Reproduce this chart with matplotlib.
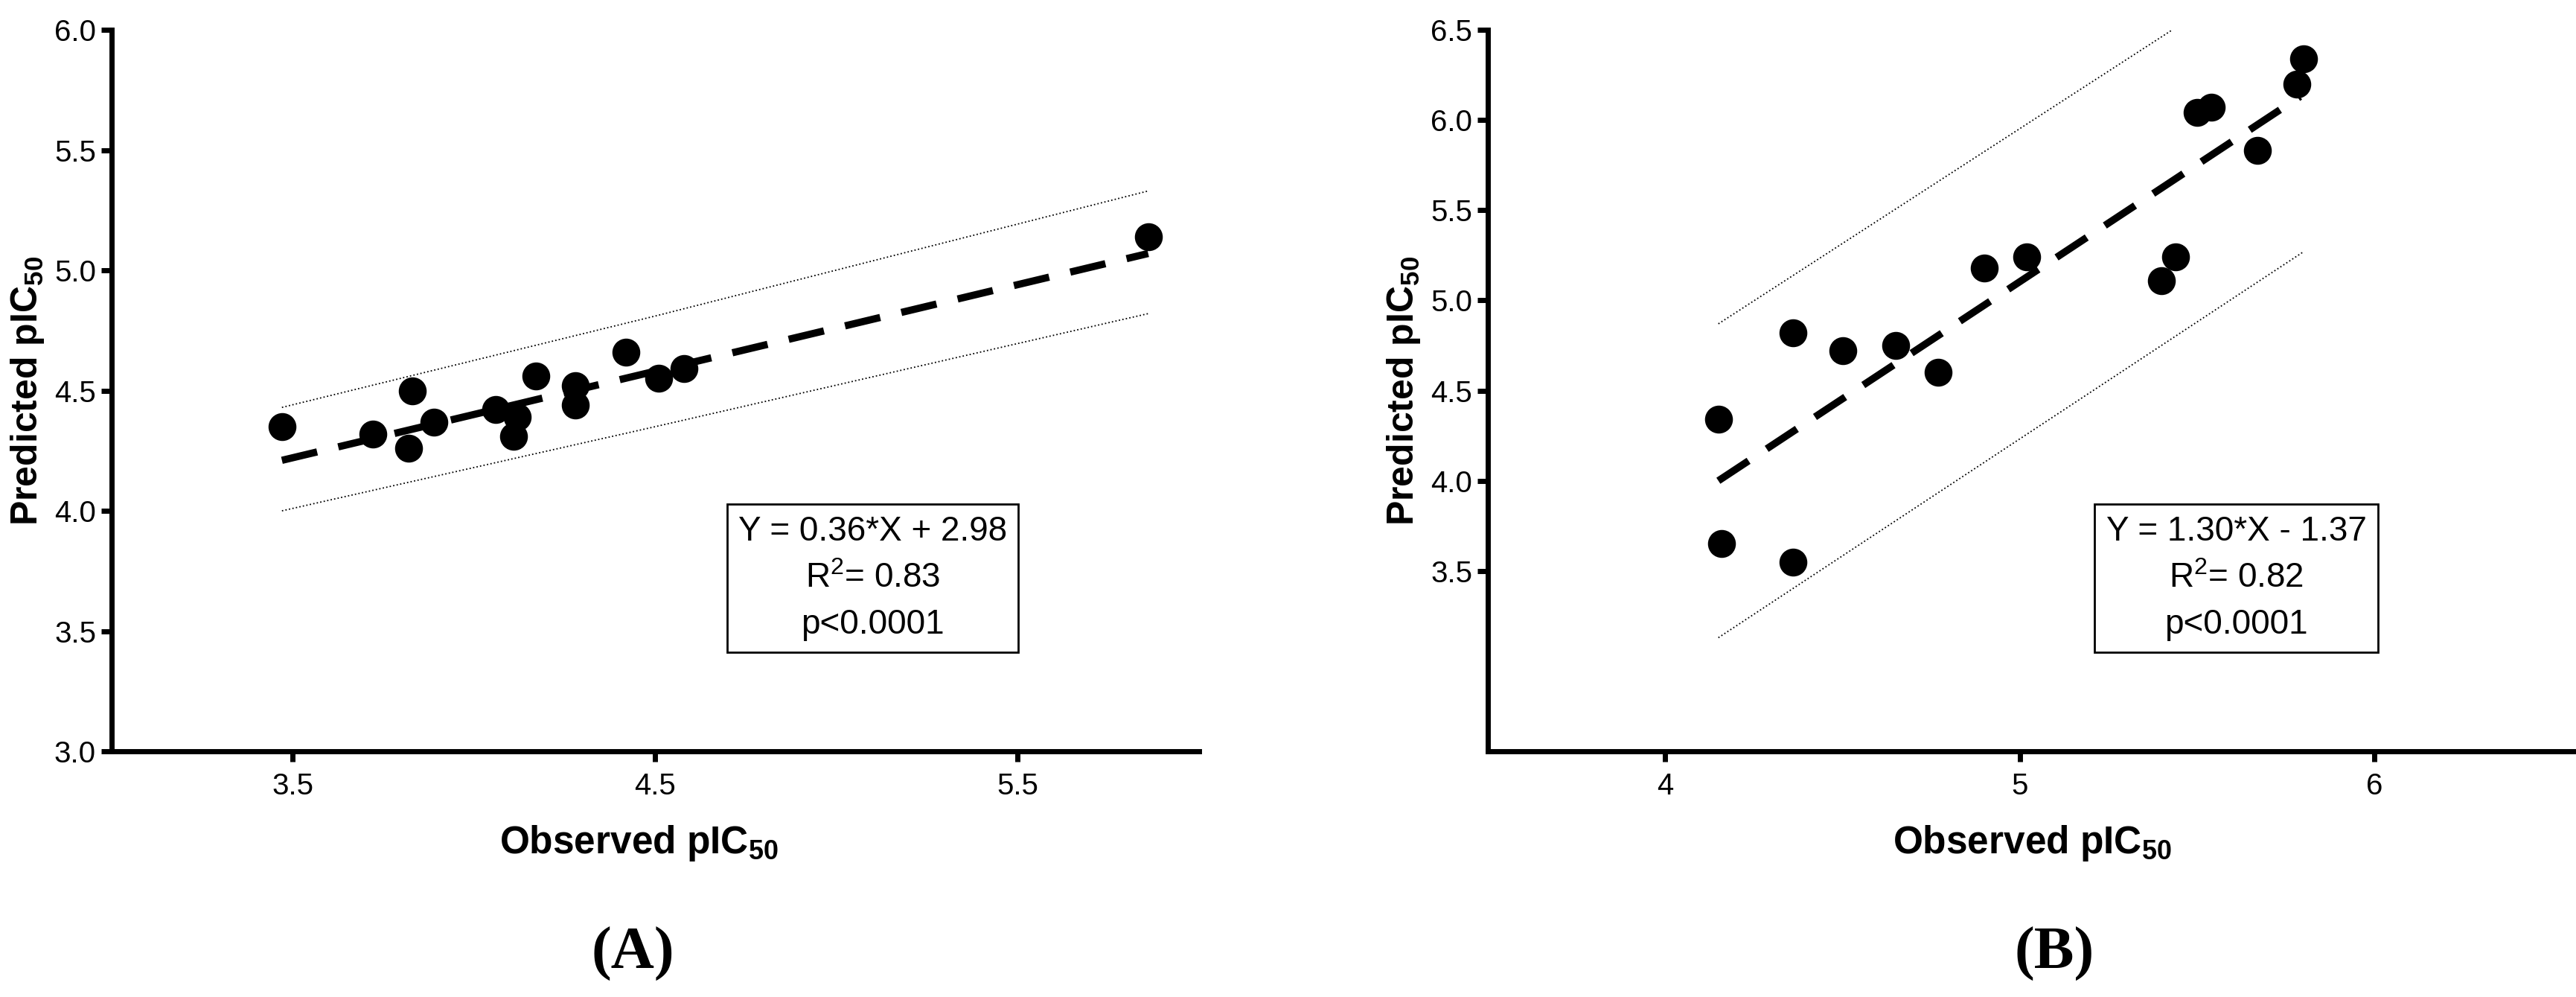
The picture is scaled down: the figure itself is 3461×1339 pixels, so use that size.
import matplotlib

matplotlib.use('Agg')

import matplotlib.pyplot as plt

plt.rcParams['font.family'] = ['Liberation Sans', 'DejaVu Sans']
plt.rcParams['mathtext.fontset'] = 'custom'
plt.rcParams['mathtext.rm'] = 'Liberation Sans'
plt.rcParams['mathtext.bf'] = 'Liberation Sans:bold'
plt.rcParams['mathtext.default'] = 'regular'

# panel A
a_obs = [3.47, 3.72, 3.83, 3.82, 3.89, 4.06, 4.12, 4.11, 4.17, 4.28, 4.28, 4.42, 4.51, 4.58, 5.86]
a_pred = [4.35, 4.32, 4.50, 4.26, 4.37, 4.42, 4.39, 4.31, 4.56, 4.52, 4.44, 4.66, 4.55, 4.59, 5.14]
a_fit_x = [3.47, 5.86]
a_fit_y = [4.21, 5.07]
a_band_x = [3.47, 4.50, 5.86]
a_band_hi = [4.43, 4.81, 5.33]
a_band_lo = [4.00, 4.35, 4.82]
a_yticks = [3.0, 3.5, 4.0, 4.5, 5.0, 5.5, 6.0]
a_xticks = [3.5, 4.5, 5.5]
a_stats = 'Y = 0.36*X + 2.98\nR$^2$= 0.83\np<0.0001'

# panel B
b_obs = [4.15, 4.16, 4.36, 4.36, 4.50, 4.65, 4.77, 4.90, 5.02, 5.40, 5.44, 5.50, 5.54, 5.67, 5.78, 5.80]
b_pred = [4.34, 3.65, 4.82, 3.55, 4.72, 4.75, 4.60, 5.18, 5.24, 5.11, 5.24, 6.04, 6.07, 5.83, 6.20, 6.34]
b_fit_x = [4.15, 5.79]
b_fit_y = [4.00, 6.13]
b_hi_x = [4.15, 5.43]
b_hi_y = [4.87, 6.50]
b_lo_x = [4.15, 5.80]
b_lo_y = [3.13, 5.27]
b_yticks = [3.5, 4.0, 4.5, 5.0, 5.5, 6.0, 6.5]
b_xticks = [4, 5, 6]
b_stats = 'Y = 1.30*X - 1.37\nR$^2$= 0.82\np<0.0001'


def style_axes(ax, xlim, ylim, xticks, yticks, xfmt, yfmt):
    ax.set_xlim(*xlim)
    ax.set_ylim(*ylim)
    ax.set_xticks(xticks)
    ax.set_xticklabels([xfmt.format(v) for v in xticks])
    ax.set_yticks(yticks)
    ax.set_yticklabels([yfmt.format(v) for v in yticks])
    for side in ['top', 'right']:
        ax.spines[side].set_visible(False)
    for side in ['left', 'bottom']:
        ax.spines[side].set_linewidth(5)
    ax.tick_params(axis='both', length=10, width=5, labelsize=29)
    ax.tick_params(axis='x', pad=10)
    ax.tick_params(axis='y', pad=5)
    ax.set_xlabel('Observed pIC$_{50}$', fontsize=37, fontweight='bold', labelpad=12)
    ax.set_ylabel('Predicted pIC$_{50}$', fontsize=36, fontweight='bold', labelpad=8)


def draw_panel(ax, obs, pred, fit, hi, lo, stats, stats_xy):
    ax.plot(hi[0], hi[1], color='black', lw=1.3, ls=':')
    ax.plot(lo[0], lo[1], color='black', lw=1.3, ls=':')
    ax.plot(fit[0], fit[1], color='black', lw=7, ls=(0, (5, 3)))
    ax.plot(obs, pred, 'o', color='black', ms=26, clip_on=False)
    ax.text(stats_xy[0], stats_xy[1], stats, fontsize=33, ha='center', va='center',
            multialignment='center', linespacing=1.55,
            bbox=dict(boxstyle='square,pad=0.33', facecolor='white',
                      edgecolor='black', linewidth=2))


fig = plt.figure(figsize=(34.62, 13.39), dpi=100)

ax1 = fig.add_axes([0.0433, 0.2464, 0.4220, 0.7237])
draw_panel(ax1, a_obs, a_pred, (a_fit_x, a_fit_y), (a_band_x, a_band_hi),
           (a_band_x, a_band_lo), a_stats, (5.10, 3.72))
style_axes(ax1, (3.0, 6.0), (3.0, 6.0), a_xticks, a_yticks, '{:.1f}', '{:.1f}')
ax1.xaxis.set_label_coords(0.485, -0.10)

ax2 = fig.add_axes([0.5774, 0.2464, 0.4226, 0.7237])
draw_panel(ax2, b_obs, b_pred, (b_fit_x, b_fit_y), (b_hi_x, b_hi_y),
           (b_lo_x, b_lo_y), b_stats, (5.61, 3.46))
style_axes(ax2, (3.5, 6.57), (2.5, 6.5), b_xticks, b_yticks, '{:d}', '{:.1f}')
ax2.xaxis.set_label_coords(0.5, -0.10)

fig.text(850 / 3462, 1 - 1281 / 1339, '(A)', fontsize=58, fontweight='bold',
         family='Liberation Serif', ha='center', va='center')
fig.text(2760 / 3462, 1 - 1281 / 1339, '(B)', fontsize=58, fontweight='bold',
         family='Liberation Serif', ha='center', va='center')

fig.savefig('out.png', dpi=100)
